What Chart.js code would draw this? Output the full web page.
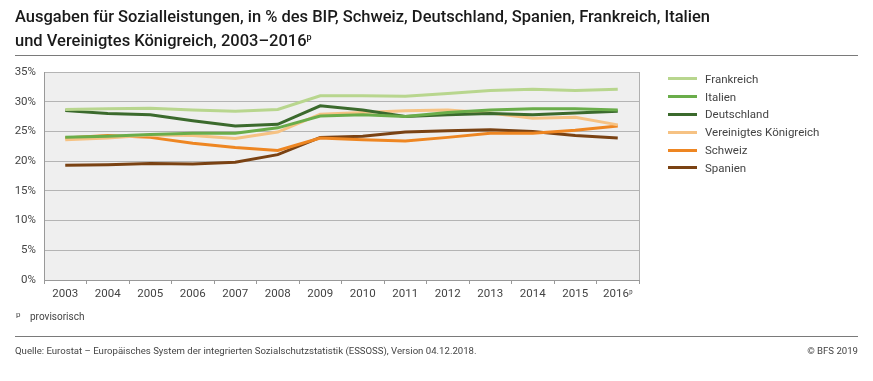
<!DOCTYPE html>
<html><head><meta charset="utf-8">
<script src="https://cdn.jsdelivr.net/npm/chart.js@4.4.0/dist/chart.umd.min.js"></script>
<style>
html,body{margin:0;padding:0;background:#fff;width:873px;height:381px;overflow:hidden;font-family:Roboto,"Noto Sans",sans-serif;}
#wrap{position:absolute;left:0;top:0;width:873px;height:381px;}
.t{position:absolute;white-space:nowrap;color:#222;}
.tt{color:#1a1a1a;font-weight:500;font-size:16.3px;}
.rule{position:absolute;left:15px;width:843px;height:0;border-top:1.5px solid #7a7a7a;}
#legend{position:absolute;left:668px;top:70px;}
.li{height:17.8px;display:flex;align-items:center;font-size:11.5px;color:#444;}
.sw{width:29px;height:3px;margin-right:8px;}
</style></head><body>
<div id="wrap"><canvas id="c" width="873" height="381"></canvas></div>
<div class="t tt" id="t1" style="left:15px;top:7px;">Ausgaben für Sozialleistungen, in % des BIP, Schweiz, Deutschland, Spanien, Frankreich, Italien</div>
<div class="t tt" id="t2" style="left:15px;top:31px;">und Vereinigtes Königreich, 2003–2016<sup style="font-size:9px;">p</sup></div>
<div class="rule" style="top:55px;"></div>
<div id="legend"></div>
<div class="t" style="left:16px;top:310px;font-size:8px;color:#444;">p</div>
<div class="t" style="left:30px;top:311px;font-size:10px;color:#444;">provisorisch</div>
<div class="rule" style="top:336px;"></div>
<div class="t" id="src" style="left:15px;top:345px;font-size:9.6px;color:#444;">Quelle: Eurostat – Europäisches System der integrierten Sozialschutzstatistik (ESSOSS), Version 04.12.2018.</div>
<div class="t" style="right:15px;top:345px;font-size:9.6px;color:#444;">© BFS 2019</div>
<script>
const years = ["2003","2004","2005","2006","2007","2008","2009","2010","2011","2012","2013","2014","2015","2016ᵖ"];
const yTicks = [0,5,10,15,20,25,30,35];
const frankreich = [28.7,28.8,28.9,28.6,28.4,28.7,31.0,31.0,30.9,31.4,31.9,32.1,31.9,32.1];
const italien = [24.0,24.2,24.5,24.7,24.7,25.6,27.6,27.8,27.5,28.2,28.6,28.8,28.8,28.6];
const deutschland = [28.5,28.0,27.8,26.8,25.9,26.2,29.3,28.6,27.5,27.8,28.0,27.8,28.1,28.4];
const vk = [23.6,23.9,24.4,24.3,23.8,24.9,27.9,28.2,28.5,28.6,28.1,27.2,27.4,26.1];
const schweiz = [23.9,24.3,24.0,23.0,22.3,21.8,23.9,23.6,23.4,24.0,24.7,24.7,25.2,25.9];
const spanien = [19.3,19.4,19.6,19.5,19.8,21.1,24.0,24.2,24.9,25.1,25.3,25.0,24.3,23.9];
const names = ["Frankreich","Italien","Deutschland","Vereinigtes Königreich","Schweiz","Spanien"];
const colors = ["#b8d68e","#6aad4a","#3b6a2d","#f6c283","#ee8622","#7a4213"];
const series = [frankreich,italien,deutschland,vk,schweiz,spanien];

// fit title width to reference
(function(){const t1=document.getElementById('t1'),t2=document.getElementById('t2');const w=t1.getBoundingClientRect().width;const fs=16.3*695/w;t1.style.fontSize=fs+'px';t2.style.fontSize=fs+'px';})();

const datasets = series.map((d,i)=>({label:names[i],data:d,borderColor:colors[i],backgroundColor:colors[i],borderWidth:3,pointRadius:0,tension:0,fill:false,order:i}));

const bg = {id:'bg',beforeDraw(ch){const a=ch.chartArea,c=ch.ctx;c.save();c.fillStyle='#efefef';c.fillRect(a.left,a.top,a.right-a.left,a.bottom-a.top);c.restore();}};
const frame = {id:'frame',beforeDatasetsDraw(ch){const a=ch.chartArea,c=ch.ctx;c.save();c.strokeStyle='#b0b0b0';c.lineWidth=1;c.beginPath();c.moveTo(a.right+0.5,a.top);c.lineTo(a.right+0.5,a.bottom);c.stroke();c.restore();}};

new Chart(document.getElementById('c'),{
 type:'line',
 data:{labels:years,datasets:datasets},
 plugins:[bg,frame],
 options:{
  responsive:false,animation:false,
  layout:{padding:{left:0,top:72,right:234,bottom:0}},
  plugins:{legend:{display:false},tooltip:{enabled:false}},
  scales:{
   x:{offset:true,
      grid:{display:true,drawOnChartArea:false,drawTicks:true,tickLength:4,offset:true,color:'#999'},
      border:{display:true,color:'#999',width:1},
      ticks:{color:'#444',font:{family:'Roboto',size:11.5},padding:3,maxRotation:0,autoSkip:false},
      afterFit(s){s.height=101;}},
   y:{min:0,max:35,
      afterBuildTicks(s){s.ticks=yTicks.map(v=>({value:v}));},
      grid:{color:'#b4b4b4',lineWidth:1,drawTicks:false},
      border:{display:true,color:'#999',width:1},
      ticks:{color:'#444',font:{family:'Roboto',size:11.5},padding:8,callback:v=>v+'%'},
      afterFit(s){s.width=44;}}
  }
 }
});

const lg=document.getElementById('legend');
names.forEach((n,i)=>{const r=document.createElement('div');r.className='li';r.innerHTML='<span class="sw" style="background:'+colors[i]+'"></span>'+n;lg.appendChild(r);});
</script>
</body></html>
